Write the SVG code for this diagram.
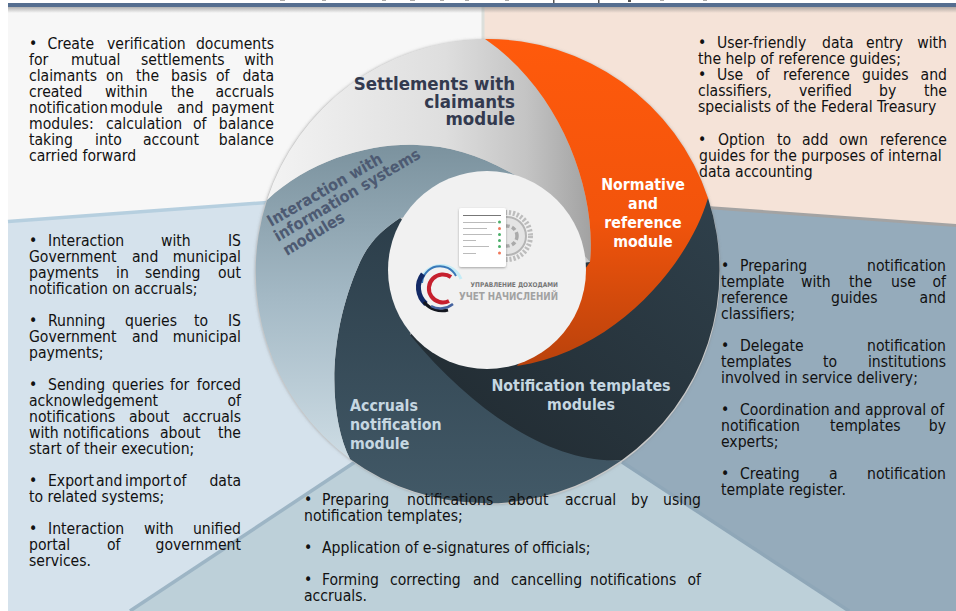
<svg xmlns="http://www.w3.org/2000/svg" width="956" height="611" viewBox="0 0 956 611">
<style>
text{font-family:"DejaVu Sans","Liberation Sans",sans-serif;font-stretch:condensed}
.b{font-size:15.6px;fill:#111}
.e{text-anchor:end}
.h{font-weight:bold;font-size:15.8px}
.il{font-weight:bold;font-size:16px;fill:#4d5a72}
</style>
<defs>
<linearGradient id="gs" x1="0" y1="0" x2="1" y2="0"><stop offset="0" stop-color="#f3f3f3"/><stop offset=".55" stop-color="#dedede"/><stop offset=".8" stop-color="#c4c4c4"/><stop offset="1" stop-color="#a2a2a2"/></linearGradient>
<linearGradient id="gi" x1="0" y1="0" x2="0" y2="1"><stop offset="0" stop-color="#7b929e"/><stop offset=".5" stop-color="#a5bac6"/><stop offset="1" stop-color="#cddce4"/></linearGradient>
<linearGradient id="go" x1="0" y1="0" x2="0" y2="1"><stop offset="0" stop-color="#ff5a0c"/><stop offset=".55" stop-color="#f2540c"/><stop offset="1" stop-color="#b9420c"/></linearGradient>
<linearGradient id="ga" x1="0" y1="0" x2="0" y2="1"><stop offset="0" stop-color="#2c3e4a"/><stop offset="1" stop-color="#425967"/></linearGradient>
<linearGradient id="gn" x1="0" y1="1" x2="1" y2="0"><stop offset="0" stop-color="#20292f"/><stop offset="1" stop-color="#2f404b"/></linearGradient>
<linearGradient id="gt" x1="0" y1="0" x2="0" y2="1"><stop offset="0" stop-color="#777" stop-opacity=".55"/><stop offset="1" stop-color="#777" stop-opacity="0"/></linearGradient>
<filter id="sh" x="-5%" y="-5%" width="110%" height="110%"><feDropShadow dx="0" dy="0" stdDeviation="1.500" flood-color="#777" flood-opacity=".5"/></filter>
<filter id="sc" x="-20%" y="-20%" width="140%" height="140%"><feDropShadow dx="0" dy="1" stdDeviation="1.200" flood-color="#555" flood-opacity=".5"/></filter>
</defs>
<rect width="956" height="611" fill="#fff"/>
<g id="background">
<polygon points="8,7 484,7 484,300 8,222" fill="#f7f7f7"/>
<polygon points="484,7 956,7 956,226 484,300" fill="#f5e3d8"/>
<rect x="481.500" y="7" width="3" height="40" fill="#dcdfdb"/>
<polygon points="8,222 300,200 400,400 355,462 130,611 8,611" fill="#d5e2ec"/>
<polygon points="713,208 956,226 956,611 848,611 622,462 500,300" fill="#95abbb"/>
<polygon points="355,462 622,462 849,611 130,611" fill="#bdd0d9"/>
<path d="M8 221.500L300 200" stroke="#b6cfdf" stroke-width="3.500" fill="none"/>
<path d="M700 207L956 225.500" stroke="#a3a3a3" stroke-width="3" fill="none"/>
<path d="M355 462L130 611" stroke="#9db5c5" stroke-width="3.500" fill="none"/>
<path d="M622 462L849 611" stroke="#8fa7b8" stroke-width="3.500" fill="none"/>
<rect x="8" y="3" width="948" height="4" fill="#556e90"/>
<rect x="8" y="7" width="948" height="6" fill="url(#gt)"/>
<g fill="#aaa"><rect x="280" y="0" width="5" height="1"/><rect x="322" y="0" width="4" height="1"/><rect x="382" y="0" width="4" height="1"/><rect x="410" y="0" width="5" height="1"/><rect x="440" y="0" width="4" height="1"/><rect x="465" y="0" width="4" height="1"/><rect x="505" y="0" width="4" height="1"/><rect x="660" y="0" width="4" height="1"/><rect x="703" y="0" width="4" height="1"/></g>
<g fill="#555"><rect x="553" y="0" width="1.500" height="3"/><rect x="598" y="0" width="1.500" height="3"/><rect x="628" y="0" width="3" height="2"/></g>
</g>
<g id="ring-base"><circle cx="487.500" cy="272" r="232.500" fill="#c8c8c8" filter="url(#sh)"/></g>
<g id="notification-templates">
<path d="M708 198A233 233 0 0 1 622 460C560 468 478 424 408 338L450 280L590 262Z" fill="url(#gn)"/>
<text class="h" text-anchor="middle" fill="#c6d7e1"><tspan x="581" y="391">Notification templates</tspan><tspan x="581" y="409.500">modules</tspan></text>
</g>
<g id="accruals-notification">
<path d="M400 218C385 228 370 240 360 262C325 340 330 420 350 459A233 233 0 0 0 622 460C560 465 480 420 410 335L440 250Z" fill="url(#ga)"/>
<text class="h" fill="#c6d7e1"><tspan x="350" y="411">Accruals</tspan><tspan x="350" y="430">notification</tspan><tspan x="350" y="449">module</tspan></text>
</g>
<g id="interaction-modules">
<path d="M267 200A233 233 0 0 0 350 459C330 420 325 340 360 262C370 240 385 228 400 218L500 200L515 175C480 155 450 146 417 145C370 143 310 160 267 200Z" fill="url(#gi)"/>
</g>
<g id="settlements-module">
<path d="M485 39A233 233 0 0 0 267 200C310 160 370 143 417 145C450 146 480 155 515 175L590 262C597 190 560 90 485 39Z" fill="url(#gs)"/>
<text text-anchor="end" fill="#333a4f" style="font-size:18.500px;font-weight:bold"><tspan x="515" y="90">Settlements with</tspan><tspan x="515" y="107.500">claimants</tspan><tspan x="515" y="125">module</tspan></text>
</g>
<g id="normative-module">
<path d="M485 39A233 233 0 0 1 708 198C690 260 620 350 517 366L590 262C597 190 560 90 485 39Z" fill="url(#go)"/>
<text class="h" text-anchor="middle" fill="#fff"><tspan x="643" y="190">Normative</tspan><tspan x="643" y="209">and</tspan><tspan x="643" y="228">reference</tspan><tspan x="643" y="247">module</tspan></text>
</g>
<g id="center">
<circle cx="487" cy="270" r="99" fill="#f1f1f1"/>
<circle cx="507" cy="236" r="23.500" fill="none" stroke="#bdbdbd" stroke-width="5" stroke-dasharray="2.200 1.800"/>
<circle cx="507" cy="236" r="19" fill="#e4e4e4" stroke="#b5b5b5" stroke-width="2"/>
<circle cx="507" cy="236" r="10" fill="none" stroke="#aaa" stroke-width="3.500" stroke-dasharray="4 2.500"/>
<rect x="459" y="208" width="47" height="59" rx="2" fill="#fff" filter="url(#sc)"/>
<g stroke-width="1"><path d="M463 215.500H501" stroke="#777"/><path d="M463 222.500H496M463 228.500H487M463 234.500H492M463 240.500H476M463 246.500H489M463 253.500H476" stroke="#bbb"/></g>
<g fill="#4caf6a"><circle cx="499.500" cy="222" r="1.500"/><circle cx="499.500" cy="234.500" r="1.500"/><circle cx="499.500" cy="240.500" r="1.500"/><circle cx="499.500" cy="246.500" r="1.500"/></g>
<g fill="#f0785a"><circle cx="499.500" cy="228.500" r="1.500"/><circle cx="499.500" cy="253" r="1.500"/></g>
<g fill="none">
<path d="M421 279A21.500 21.500 0 0 1 461 279" stroke="#c5ecf6" stroke-width="3"/>
<path d="M422 283A18 18 0 0 1 456 276" stroke="#3a78b8" stroke-width="2"/>
<path d="M426 304A22 22 0 0 1 423 274" stroke="#132a66" stroke-width="5"/>
<path d="M448 310A23 23 0 0 1 424 302" stroke="#14171f" stroke-width="3"/>
<path d="M451 277A14 14 0 1 0 449 301" stroke="#c6202e" stroke-width="4"/>
<path d="M431 306A20 20 0 0 0 453 304" stroke="#45639f" stroke-width="2.500"/>
</g>
<text x="558" y="287" class="e" fill="#777" font-size="6.500" font-weight="bold">УПРАВЛЕНИЕ ДОХОДАМИ</text>
<text x="459" y="300" fill="#a2a2a2" font-size="11" font-weight="bold" textLength="99" lengthAdjust="spacingAndGlyphs">УЧЕТ НАЧИСЛЕНИЙ</text>
</g>
<g id="interaction-label">
<text class="il" transform="translate(271 227) rotate(-30)">Interaction with</text>
<text class="il" transform="translate(278 242) rotate(-30.500)">information systems</text>
<text class="il" transform="translate(287 256) rotate(-31)">modules</text>
</g>
<g id="text-settlements">
<text class="b" y="49"><tspan x="29">•</tspan><tspan x="47.500">Create</tspan><tspan x="107">verification</tspan><tspan x="274" class="e">documents</tspan></text>
<text class="b" y="65"><tspan x="29">for</tspan><tspan x="71">mutual</tspan><tspan x="141">settlements</tspan><tspan x="274" class="e">with</tspan></text>
<text class="b" y="81"><tspan x="29">claimants</tspan><tspan x="106">on</tspan><tspan x="136">the</tspan><tspan x="171">basis</tspan><tspan x="216">of</tspan><tspan x="274" class="e">data</tspan></text>
<text class="b" y="97"><tspan x="29">created</tspan><tspan x="105">within</tspan><tspan x="171">the</tspan><tspan x="274" class="e">accruals</tspan></text>
<text class="b" y="113"><tspan x="29">notification</tspan><tspan x="110">module</tspan><tspan x="177">and</tspan><tspan x="274" class="e">payment</tspan></text>
<text class="b" y="129"><tspan x="29">modules:</tspan><tspan x="106">calculation</tspan><tspan x="193">of</tspan><tspan x="274" class="e">balance</tspan></text>
<text class="b" y="145"><tspan x="29">taking</tspan><tspan x="95">into</tspan><tspan x="143">account</tspan><tspan x="274" class="e">balance</tspan></text>
<text class="b" x="29" y="161">carried forward</text>
</g>
<g id="text-normative">
<text class="b" y="48"><tspan x="698">•</tspan><tspan x="717">User-friendly</tspan><tspan x="822">data</tspan><tspan x="866">entry</tspan><tspan x="947" class="e">with</tspan></text>
<text class="b" x="698" y="64">the help of reference guides;</text>
<text class="b" y="80"><tspan x="698">•</tspan><tspan x="717">Use</tspan><tspan x="756">of</tspan><tspan x="783">reference</tspan><tspan x="862">guides</tspan><tspan x="947" class="e">and</tspan></text>
<text class="b" y="96"><tspan x="698">classifiers,</tspan><tspan x="799">verified</tspan><tspan x="879">by</tspan><tspan x="947" class="e">the</tspan></text>
<text class="b" x="698" y="112">specialists of the Federal Treasury</text>
<text class="b" y="145"><tspan x="698">•</tspan><tspan x="718">Option</tspan><tspan x="777">to</tspan><tspan x="802">add</tspan><tspan x="839">own</tspan><tspan x="947" class="e">reference</tspan></text>
<text class="b" x="699" y="161">guides for the purposes of internal</text>
<text class="b" x="699" y="177">data accounting</text>
</g>
<g id="text-interaction">
<text class="b" y="246"><tspan x="29">•</tspan><tspan x="48">Interaction</tspan><tspan x="161">with</tspan><tspan x="241" class="e">IS</tspan></text>
<text class="b" y="262"><tspan x="29">Government</tspan><tspan x="132">and</tspan><tspan x="241" class="e">municipal</tspan></text>
<text class="b" y="278"><tspan x="29">payments</tspan><tspan x="116">in</tspan><tspan x="145">sending</tspan><tspan x="241" class="e">out</tspan></text>
<text class="b" x="29" y="294">notification on accruals;</text>
<text class="b" y="326"><tspan x="29">•</tspan><tspan x="48">Running</tspan><tspan x="125">queries</tspan><tspan x="194">to</tspan><tspan x="241" class="e">IS</tspan></text>
<text class="b" y="342"><tspan x="29">Government</tspan><tspan x="132">and</tspan><tspan x="241" class="e">municipal</tspan></text>
<text class="b" x="29" y="358">payments;</text>
<text class="b" y="390"><tspan x="29">•</tspan><tspan x="48">Sending</tspan><tspan x="112">queries</tspan><tspan x="170">for</tspan><tspan x="241" class="e">forced</tspan></text>
<text class="b" y="406"><tspan x="29">acknowledgement</tspan><tspan x="241" class="e">of</tspan></text>
<text class="b" y="422"><tspan x="29">notifications</tspan><tspan x="129">about</tspan><tspan x="241" class="e">accruals</tspan></text>
<text class="b" y="438"><tspan x="29">with</tspan><tspan x="63">notifications</tspan><tspan x="160">about</tspan><tspan x="241" class="e">the</tspan></text>
<text class="b" x="29" y="454">start of their execution;</text>
<text class="b" y="486"><tspan x="29">•</tspan><tspan x="48">Export</tspan><tspan x="96">and</tspan><tspan x="125">import</tspan><tspan x="173">of</tspan><tspan x="241" class="e">data</tspan></text>
<text class="b" x="29" y="502">to related systems;</text>
<text class="b" y="534"><tspan x="29">•</tspan><tspan x="48">Interaction</tspan><tspan x="144">with</tspan><tspan x="241" class="e">unified</tspan></text>
<text class="b" y="550"><tspan x="29">portal</tspan><tspan x="107">of</tspan><tspan x="241" class="e">government</tspan></text>
<text class="b" x="29" y="566">services.</text>
</g>
<g id="text-accruals">
<text class="b" y="505"><tspan x="304">•</tspan><tspan x="322">Preparing</tspan><tspan x="407">notifications</tspan><tspan x="508">about</tspan><tspan x="565">accrual</tspan><tspan x="631">by</tspan><tspan x="701" class="e">using</tspan></text>
<text class="b" x="304" y="521">notification templates;</text>
<text class="b" y="553"><tspan x="304">•</tspan><tspan x="322">Application of e-signatures of officials;</tspan></text>
<text class="b" y="585"><tspan x="304">•</tspan><tspan x="322">Forming</tspan><tspan x="390">correcting</tspan><tspan x="473">and</tspan><tspan x="511">cancelling</tspan><tspan x="590">notifications</tspan><tspan x="701" class="e">of</tspan></text>
<text class="b" x="304" y="601">accruals.</text>
</g>
<g id="text-templates">
<text class="b" y="271"><tspan x="721">•</tspan><tspan x="740">Preparing</tspan><tspan x="946" class="e">notification</tspan></text>
<text class="b" y="287"><tspan x="721">template</tspan><tspan x="801">with</tspan><tspan x="849">the</tspan><tspan x="891">use</tspan><tspan x="946" class="e">of</tspan></text>
<text class="b" y="303"><tspan x="721">reference</tspan><tspan x="831">guides</tspan><tspan x="946" class="e">and</tspan></text>
<text class="b" x="721" y="319">classifiers;</text>
<text class="b" y="351"><tspan x="721">•</tspan><tspan x="740">Delegate</tspan><tspan x="946" class="e">notification</tspan></text>
<text class="b" y="367"><tspan x="721">templates</tspan><tspan x="823">to</tspan><tspan x="946" class="e">institutions</tspan></text>
<text class="b" x="721" y="383">involved in service delivery;</text>
<text class="b" y="415"><tspan x="721">•</tspan><tspan x="740">Coordination and approval of</tspan></text>
<text class="b" y="431"><tspan x="721">notification</tspan><tspan x="830">templates</tspan><tspan x="946" class="e">by</tspan></text>
<text class="b" x="721" y="447">experts;</text>
<text class="b" y="479"><tspan x="721">•</tspan><tspan x="740">Creating</tspan><tspan x="829">a</tspan><tspan x="946" class="e">notification</tspan></text>
<text class="b" x="721" y="495">template register.</text>
</g>
</svg>
